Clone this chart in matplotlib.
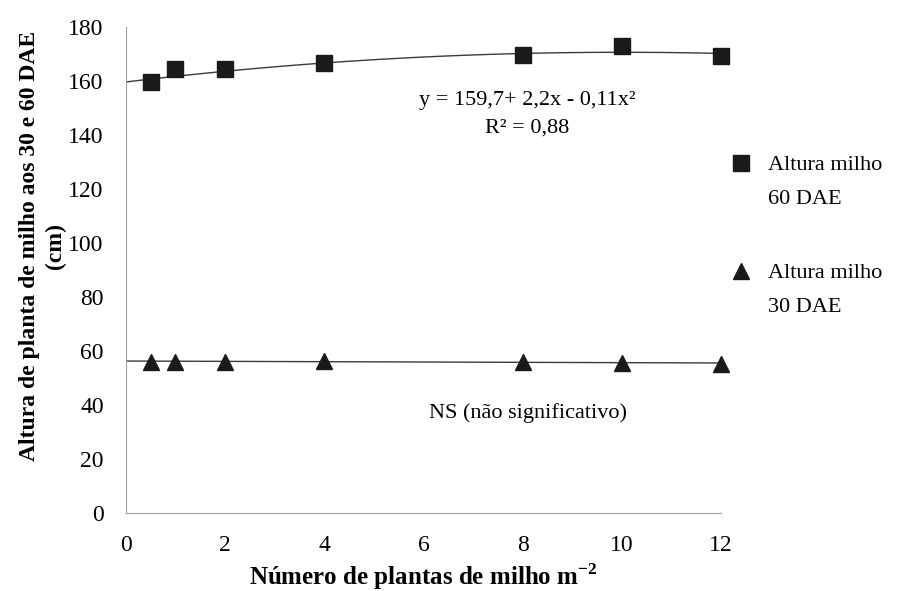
import numpy as np
import matplotlib
matplotlib.use("Agg")
import matplotlib.pyplot as plt
from matplotlib.legend_handler import HandlerLine2D

plt.rcParams['font.family'] = ['Liberation Serif', 'DejaVu Serif']
plt.rcParams['mathtext.fontset'] = 'custom'
plt.rcParams['mathtext.rm'] = 'Liberation Serif'
plt.rcParams['mathtext.bf'] = 'Liberation Serif:bold'

plantas = [0.5, 1, 2, 4, 8, 10, 12]
altura_60 = [159.8, 164.4, 164.4, 166.7, 169.6, 173.0, 169.2]
altura_30 = [56.0, 56.0, 56.0, 56.4, 56.0, 55.6, 55.2]

# trend lines from the chart
coef_60 = [159.7, 2.2, -0.11]
linha_30 = [56.3, -0.06]


class PrimeiraLinha(HandlerLine2D):
    # marker next to the first line of the label, like excel does
    def create_artists(self, legend, orig_handle, xdescent, ydescent, width, height, fontsize, trans):
        return super().create_artists(legend, orig_handle, xdescent, ydescent - 27,
                                      width, height, fontsize, trans)


fig = plt.figure(figsize=(8.99, 5.91), dpi=100)
ax = fig.add_axes([0.140, 0.132, 0.662, 0.822])

xs = np.linspace(0, 12, 100)
ax.plot(xs, coef_60[0] + coef_60[1] * xs + coef_60[2] * xs**2, color='#3a3a3a', lw=1)
ax.plot(xs, linha_30[0] + linha_30[1] * xs, color='#3a3a3a', lw=1)

ax.plot(plantas, altura_60, 's', color='#1a1a1a', ms=12, clip_on=False, label='Altura milho\n60 DAE')
ax.plot(plantas, altura_30, '^', color='#1a1a1a', ms=11, clip_on=False, label='Altura milho\n30 DAE')

ax.set_xlim(0, 12)
ax.set_ylim(0, 180)
ax.set_xticks(range(0, 13, 2))
ax.set_yticks(range(0, 181, 20))
ax.tick_params(length=0, labelsize=17, pad=16)
for s in ['top', 'right']:
    ax.spines[s].set_visible(False)
for s in ['left', 'bottom']:
    ax.spines[s].set_color('#a0a0a0')

ax.set_ylabel('Altura de planta de milho aos 30 e 60 DAE\n(cm)', fontsize=17,
              fontweight='bold', linespacing=1.35)
ax.yaxis.set_label_coords(-0.10, 0.55)
ax.set_xlabel(r'Número de plantas de milho m$^{\mathbf{-2}}$', fontsize=18, fontweight='bold')
ax.xaxis.label.set_va('bottom')
ax.xaxis.set_label_coords(0.5, -0.163)

ax.text(8.1, 153, 'y = 159,7+ 2,2x - 0,11x²', fontsize=16, ha='center', va='center')
ax.text(8.1, 142.6, 'R² = 0,88', fontsize=16, ha='center', va='center')
ax.text(8.1, 37, 'NS (não significativo)', fontsize=16, ha='center', va='center')

leg = ax.legend(loc='center left', bbox_to_anchor=(1.015, 0.569), frameon=False, fontsize=16,
                handlelength=1.0, handletextpad=0.7, labelspacing=2.48, borderpad=0,
                borderaxespad=0, handler_map={plt.Line2D: PrimeiraLinha()})
for t in leg.get_texts():
    t.set_linespacing(2.05)

fig.savefig('out.png', dpi=100)
